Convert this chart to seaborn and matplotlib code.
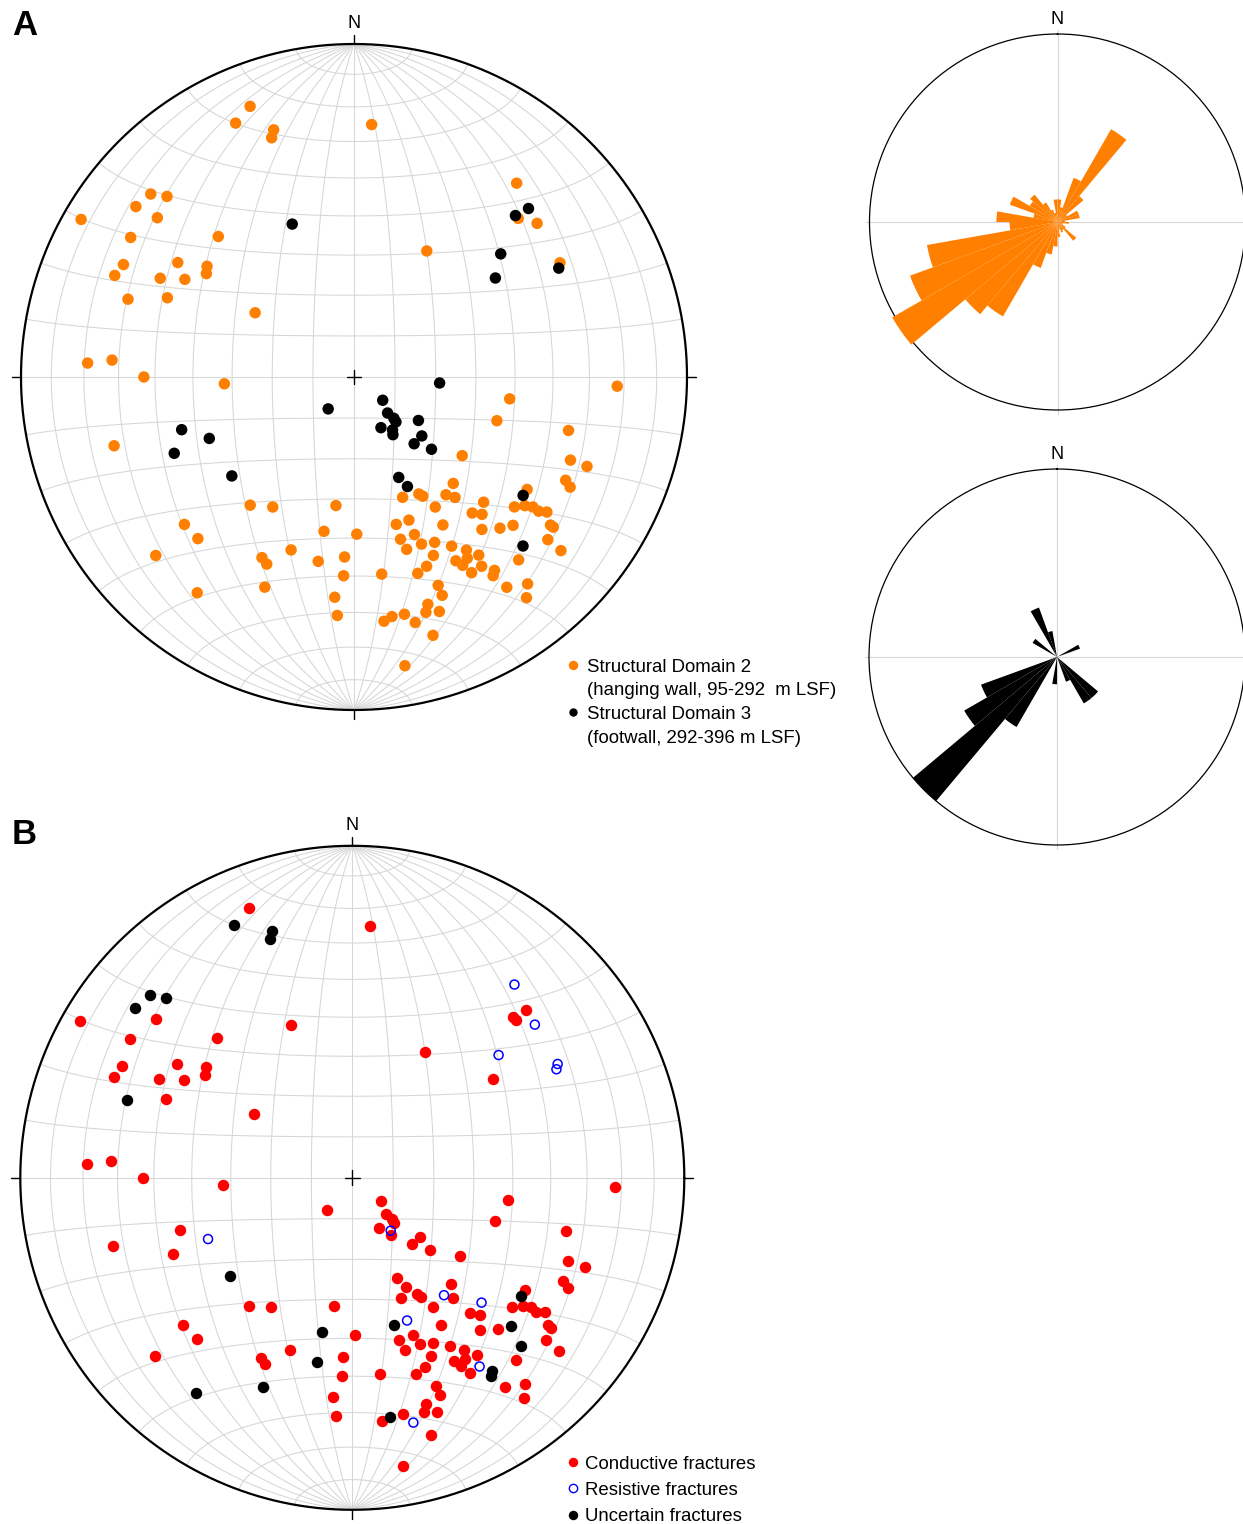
import numpy as np
import pandas as pd
import matplotlib
matplotlib.use("Agg")
import matplotlib.pyplot as plt
import seaborn as sns
from matplotlib.lines import Line2D

# ---------------------------------------------------------------------------
# Fracture poles (lower hemisphere): trend / plunge in degrees.
# class codes for the image-log classification: C conductive, R resistive,
# U uncertain, "-" not classified.
# ---------------------------------------------------------------------------
trend_d2 = [339, 335, 342, 341, 312, 314, 308, 300, 309, 302,
            316, 303, 296, 307, 293, 305, 297, 300, 289, 293,
            303, 273, 274, 270, 267, 254, 219, 212, 188, 229,
            224, 191, 179, 228, 207, 205, 200, 191, 183, 183,
            216, 203, 185, 184, 4, 40, 46, 50, 30, 61,
            92, 98, 107, 104, 111, 111, 126, 116, 117, 137,
            123, 151, 150, 142, 140, 158, 134, 148, 129, 127,
            126, 126, 125, 127, 127, 139, 137, 159, 164, 149,
            140, 136, 133, 159, 164, 158, 154, 150, 130, 163,
            147, 156, 145, 151, 148, 150, 146, 130, 138, 159,
            162, 149, 144, 145, 172, 144, 140, 142, 158, 158,
            162, 163, 160, 168, 171, 173, 166, 163, 170]
plunge_d2 = [14, 17, 23, 25, 19, 23, 18, 6, 25, 22,
             41, 37, 24, 44, 23, 45, 35, 41, 29, 39,
             61, 21, 28, 37, 58, 26, 49, 52, 58, 33,
             33, 51, 51, 21, 39, 38, 44, 43, 45, 40,
             21, 32, 34, 29, 25, 25, 32, 29, 54, 30,
             22, 51, 53, 34, 31, 26, 57, 30, 28, 54,
             38, 57, 56, 53, 51, 58, 45, 52, 38, 36,
             34, 32, 30, 27, 26, 45, 43, 52, 52, 47,
             40, 37, 35, 48, 48, 45, 44, 41, 25, 45,
             38, 41, 35, 37, 36, 35, 32, 20, 27, 39,
             38, 32, 29, 28, 40, 23, 20, 17, 33, 30,
             29, 27, 26, 28, 28, 27, 25, 20, 13]
class_d2 = list("CUUUUUUCCC"
                "CCCCCCCCUC"
                "CCCCCCCCCC"
                "CUCCCCCUCC"
                "UUCCCRCRCR"
                "CCCCCCCCCC"
                "CCCRCCRCCC"
                "CCCCCCCRUC"
                "CCUCCCCCCC"
                "CCCCCCRCCC"
                "CCUUCCCCCC"
                "CCCCUCRCC")

trend_d3 = [338, 46, 45, 50, 55, 62, 219, 253, 247, 247, 231, 94, 129, 137,
            136, 137, 152, 144, 146, 124, 131, 138, 133, 156, 154, 125, 135]
plunge_d3 = [49, 28, 32, 42, 47, 31, 80, 45, 51, 41, 51, 69, 81, 78,
             76, 75, 76, 74, 73, 71, 68, 68, 64, 63, 60, 38, 29]
class_d3 = list("CCCRCRCCRCU-CCCCCRC-CCCCCUU")

# Rose diagrams: 10-degree bins (start azimuth), frequency in %
rose_bins = np.arange(0, 360, 10)
rose_d2 = [2.4, 1.6, 5.0, 11.4, 3.6, 1.2, 2.4, 2.4, 0.8, 1.2,
           0.6, 0.6, 1.0, 2.6, 1.0, 1.2, 0.8, 1.6, 2.6, 3.5,
           5.2, 11.6, 12.8, 20.3, 16.7, 14.1, 5.1, 6.5, 2.6, 5.4,
           3.4, 3.8, 2.4, 1.4, 1.0, 2.4]
rose_d3 = [0, 0, 0, 0, 0, 0, 2.6, 0, 0, 0,
           0, 0, 0, 5.7, 5.7, 2.8, 0, 0, 2.9, 0,
           0, 8.6, 20.0, 11.4, 8.6, 0, 0, 0, 0, 0,
           3.0, 0, 0, 5.6, 2.8, 0]
ROSE_OUTER = 20.0

ORANGE = "#ff8000"
RED = "#ff0000"
BLUE = "#0000ff"
GRID = "#d6d6d6"

sns.set_style("white")
plt.rcParams["font.family"] = ["Liberation Sans", "DejaVu Sans"]
plt.rcParams["text.color"] = "black"

W, H = 1243, 1524
fig = plt.figure(figsize=(W / 100, H / 100), dpi=100)


def schmidt(tr, pl):
    """Equal-area (Schmidt) projection of lower-hemisphere lines, unit primitive."""
    tr = np.radians(np.asarray(tr, float))
    pl = np.radians(np.asarray(pl, float))
    r = np.sqrt(2.0) * np.sin((np.pi / 2 - pl) / 2)
    return r * np.sin(tr), r * np.cos(tr)


def lambert(lam, phi):
    k = np.sqrt(2.0 / (1.0 + np.cos(phi) * np.cos(lam)))
    return k * np.cos(phi) * np.sin(lam) / np.sqrt(2.0), k * np.sin(phi) / np.sqrt(2.0)


def draw_net(ax):
    ax.set_xlim(-1, 1)
    ax.set_ylim(-1, 1)
    ax.axis("off")
    phi = np.radians(np.linspace(-90, 90, 361))
    lam = np.radians(np.linspace(-90, 90, 361))
    for a in np.radians(np.arange(-80, 81, 10)):
        x, y = lambert(np.full_like(phi, a), phi)
        ax.plot(x, y, color=GRID, lw=0.75, zorder=1)
        x, y = lambert(lam, np.full_like(lam, a))
        ax.plot(x, y, color=GRID, lw=0.75, zorder=1)
    t = np.linspace(0, 2 * np.pi, 721)
    ax.plot(np.cos(t), np.sin(t), color="black", lw=1.6, zorder=5, clip_on=False)
    tk = 0.027
    kw = dict(color="black", lw=1.0, zorder=5, clip_on=False)
    ax.plot([0, 0], [1, 1 + tk], **kw)
    ax.plot([0, 0], [-1, -1 - tk], **kw)
    ax.plot([1, 1 + tk], [0, 0], **kw)
    ax.plot([-1, -1 - tk], [0, 0], **kw)
    c = 0.022
    ax.plot([-c, c], [0, 0], **kw)
    ax.plot([0, 0], [-c, c], **kw)
    ax.text(0, 1.062, "N", ha="center", va="center", fontsize=13, color="black")


# --------------------------- panel A net ----------------------------------
df = pd.DataFrame({
    "trend": trend_d2 + trend_d3,
    "plunge": plunge_d2 + plunge_d3,
    "domain": ["Structural Domain 2"] * len(trend_d2) + ["Structural Domain 3"] * len(trend_d3),
    "cls": class_d2 + class_d3,
})
df["x"], df["y"] = schmidt(df["trend"], df["plunge"])

axA = fig.add_axes([21 / W, 1 - 710 / H, 666 / W, 666 / H])
draw_net(axA)
sns.scatterplot(data=df, x="x", y="y", hue="domain",
                palette={"Structural Domain 2": ORANGE, "Structural Domain 3": "black"},
                s=68, linewidth=0, legend=False, ax=axA, zorder=4, clip_on=False)

blank = Line2D([], [], ls="none", marker="none")
hA = [Line2D([], [], ls="none", marker="o", color=ORANGE, mec="none", markersize=6.8), blank,
      Line2D([], [], ls="none", marker="o", color="black", mec="none", markersize=6.0), blank]
lA = ["Structural Domain 2", "(hanging wall, 95-292  m LSF)",
      "Structural Domain 3", "(footwall, 292-396 m LSF)"]
fig.legend(hA, lA, loc="upper left", bbox_to_anchor=(565.6 / W, 1 - 658.5 / H),
           frameon=False, fontsize=13.4, handlelength=0.8, handletextpad=0.35,
           borderpad=0, borderaxespad=0, labelspacing=0.36, labelcolor="black")

# --------------------------- panel B net ----------------------------------
axB = fig.add_axes([(352.3 - 332) / W, 1 - (1177.8 + 332) / H, 664 / W, 664 / H])
draw_net(axB)
cond = df[df["cls"] == "C"]
unc = df[df["cls"] == "U"]
res = df[df["cls"] == "R"]
sns.scatterplot(data=cond, x="x", y="y", color=RED, s=68, linewidth=0,
                legend=False, ax=axB, zorder=4, clip_on=False)
sns.scatterplot(data=unc, x="x", y="y", color="black", s=68, linewidth=0,
                legend=False, ax=axB, zorder=4, clip_on=False)
sns.scatterplot(data=res, x="x", y="y", color=BLUE, facecolor="none", edgecolor=BLUE,
                s=42, linewidth=1.1, legend=False, ax=axB, zorder=4, clip_on=False)

hB = [Line2D([], [], ls="none", marker="o", color=RED, mec="none", markersize=6.8),
      Line2D([], [], ls="none", marker="o", mfc="none", mec=BLUE, mew=1.0, markersize=6.0),
      Line2D([], [], ls="none", marker="o", color="black", mec="none", markersize=6.8)]
lB = ["Conductive fractures", "Resistive fractures", "Uncertain fractures"]
fig.legend(hB, lB, loc="upper left", bbox_to_anchor=(565.6 / W, 1 - 1455.6 / H),
           frameon=False, fontsize=13.4, handlelength=0.8, handletextpad=0.25,
           borderpad=0, borderaxespad=0, labelspacing=0.5, labelcolor="black")

# --------------------------- rose diagrams --------------------------------
def draw_rose(ax, values, color):
    ax.set_theta_zero_location("N")
    ax.set_theta_direction(-1)
    ax.bar(np.radians(rose_bins + 5), values, width=np.radians(10), bottom=0,
           color=color, edgecolor="none", linewidth=0, zorder=3, clip_on=False)
    ax.set_ylim(0, ROSE_OUTER)
    ax.set_xticks([])
    ax.set_yticks([])
    ax.grid(False)
    ax.spines["polar"].set_linewidth(0.9)
    ax.spines["polar"].set_color("black")
    for ang in (0, 90, 180, 270):
        ax.plot([np.radians(ang)] * 2, [0, ROSE_OUTER * 1.02], color=GRID, lw=0.8,
                zorder=1, clip_on=False)
    ax.text(0, ROSE_OUTER * 1.075, "N", ha="center", va="center", fontsize=13, color="black")


axR1 = fig.add_axes([869.5 / W, 1 - 410 / H, 376 / W, 376 / H], projection="polar")
draw_rose(axR1, rose_d2, ORANGE)
axR2 = fig.add_axes([869 / W, 1 - 845 / H, 376 / W, 376 / H], projection="polar")
draw_rose(axR2, rose_d3, "black")

fig.text(12 / W, 1 - 35 / H, "A", fontsize=25, fontweight="bold", ha="left", va="baseline",
         color="black")
fig.text(12 / W, 1 - 844 / H, "B", fontsize=25, fontweight="bold", ha="left", va="baseline",
         color="black")

fig.savefig("out.png", dpi=100, facecolor="white")
